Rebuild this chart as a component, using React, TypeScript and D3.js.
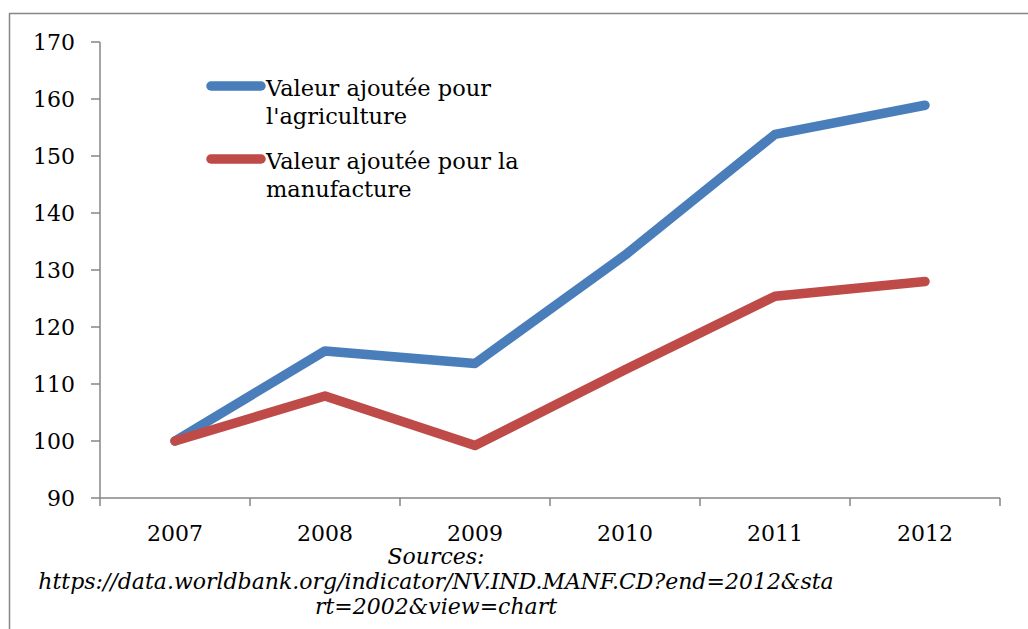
import React from "react";
import * as d3 from "d3";

const years = ["2007", "2008", "2009", "2010", "2011", "2012"];
const agriculture = [100, 115.8, 113.6, 132.6, 153.8, 158.9];
const manufacture = [100, 107.9, 99.2, 112.5, 125.4, 128.0];
const yTicks = [90, 100, 110, 120, 130, 140, 150, 160, 170];
const seriesNames = ["Valeur ajoutée pour|l'agriculture", "Valeur ajoutée pour la|manufacture"];
const sourceLines = [
  "Sources:",
  "https://data.worldbank.org/indicator/NV.IND.MANF.CD?end=2012&sta",
  "rt=2002&view=chart",
];

const W = 1028;
const H = 629;
const FONT = "'DejaVu Serif', serif";
const colors = ["#4A7EBB", "#BE4B48"];
const axisColor = "#868686";

export default function App() {
  const left = 100, right = 1000, top = 42, bottom = 498;
  const x = d3.scaleBand<string>().domain(years).range([left, right]).padding(0);
  const y = d3.scaleLinear().domain([90, 170]).range([bottom, top]);
  const line = d3
    .line<number>()
    .x((_, i) => (x(years[i]) as number) + x.bandwidth() / 2)
    .y((d) => y(d));
  const series = [agriculture, manufacture];
  const boundaries = years.map((yr) => x(yr) as number).concat([right]);

  return (
    <svg
      width={W}
      height={H}
      style={{ position: "absolute", left: 0, top: 0, background: "#fff" }}
      fontFamily={FONT}
    >
      <rect x={0} y={0} width={W} height={H} fill="#fff" />
      {/* outer frame */}
      <line x1={9.5} y1={13} x2={9.5} y2={H} stroke={axisColor} strokeWidth={1.5} />
      <line x1={9} y1={13.5} x2={W} y2={13.5} stroke={axisColor} strokeWidth={1.5} />

      {/* y axis */}
      <line x1={left} y1={top} x2={left} y2={bottom} stroke={axisColor} strokeWidth={1.5} />
      {yTicks.map((t) => (
        <g key={t}>
          <line x1={left - 9} x2={left} y1={y(t)} y2={y(t)} stroke={axisColor} strokeWidth={1.5} />
          <text x={75} y={y(t)} dy="0.36em" textAnchor="end" fontSize={22} fill="#000">
            {t}
          </text>
        </g>
      ))}

      {/* x axis */}
      <line x1={left} y1={bottom} x2={right} y2={bottom} stroke={axisColor} strokeWidth={1.5} />
      {boundaries.map((b, i) => (
        <line key={i} x1={b} x2={b} y1={bottom} y2={bottom + 8} stroke={axisColor} strokeWidth={1.5} />
      ))}
      {years.map((yr) => (
        <text
          key={yr}
          x={(x(yr) as number) + x.bandwidth() / 2}
          y={541}
          textAnchor="middle"
          fontSize={22}
          fill="#000"
        >
          {yr}
        </text>
      ))}

      {/* series */}
      {series.map((s, i) => (
        <path
          key={i}
          d={line(s) as string}
          fill="none"
          stroke={colors[i]}
          strokeWidth={9.5}
          strokeLinecap="round"
          strokeLinejoin="round"
        />
      ))}

      {/* legend */}
      {seriesNames.map((name, i) => {
        const ly = 86 + i * 73;
        const parts = name.split("|");
        return (
          <g key={i}>
            <line x1={211} x2={261} y1={ly} y2={ly} stroke={colors[i]} strokeWidth={9.5} strokeLinecap="round" />
            {parts.map((p, j) => (
              <text key={j} x={266} y={ly + 10 + j * 28} fontSize={22.5} fill="#000">
                {p}
              </text>
            ))}
          </g>
        );
      })}

      {/* sources */}
      {sourceLines.map((s, i) => (
        <text
          key={i}
          x={436}
          y={564 + i * 25}
          textAnchor="middle"
          fontSize={22}
          fontStyle="italic"
          fill="#000"
        >
          {s}
        </text>
      ))}
    </svg>
  );
}
